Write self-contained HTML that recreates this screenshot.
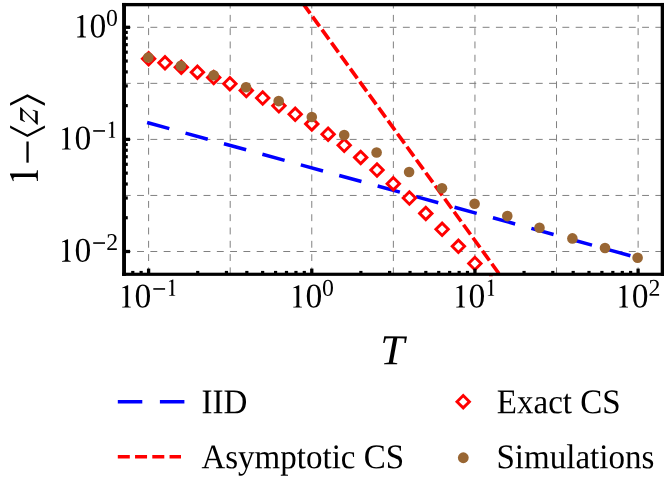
<!DOCTYPE html>
<html><head><meta charset="utf-8"><title>chart</title>
<style>html,body{margin:0;padding:0;background:#fff;}body{width:664px;height:487px;overflow:hidden;font-family:"Liberation Serif",serif;}svg{display:block;will-change:transform;}</style>
</head><body>
<svg width="664" height="487" viewBox="0 0 664 487">
<rect x="0" y="0" width="664" height="487" fill="#fff"/>
<defs><clipPath id="clip"><rect x="124.1" y="4.8" width="538.5" height="269.3"/></clipPath></defs>
<g stroke="#808080" stroke-width="1" stroke-dasharray="6.9 6.39" fill="none" clip-path="url(#clip)">
<line x1="148.60" y1="1.5999999999999996" x2="148.60" y2="274.1"/>
<line x1="230.19" y1="1.5999999999999996" x2="230.19" y2="274.1"/>
<line x1="311.77" y1="1.5999999999999996" x2="311.77" y2="274.1"/>
<line x1="393.36" y1="1.5999999999999996" x2="393.36" y2="274.1"/>
<line x1="474.94" y1="1.5999999999999996" x2="474.94" y2="274.1"/>
<line x1="556.52" y1="1.5999999999999996" x2="556.52" y2="274.1"/>
<line x1="638.11" y1="1.5999999999999996" x2="638.11" y2="274.1"/>
<line x1="123.8" y1="27.30" x2="662.6" y2="27.30"/>
<line x1="123.8" y1="83.35" x2="662.6" y2="83.35"/>
<line x1="123.8" y1="139.40" x2="662.6" y2="139.40"/>
<line x1="123.8" y1="195.45" x2="662.6" y2="195.45"/>
<line x1="123.8" y1="251.50" x2="662.6" y2="251.50"/>
</g>
<g clip-path="url(#clip)" fill="none">
<line x1="147.1" y1="122.5" x2="638.6" y2="257.96" stroke="#0000ff" stroke-width="3.55" stroke-dasharray="23.03 16.83"/>
<line x1="294.90" y1="-7.69" x2="505.00" y2="281.94" stroke="#ff0000" stroke-width="3.65" stroke-dasharray="12.0 4.07" stroke-dashoffset="2.1"/>
</g>
<g fill="#fff" stroke="#ff0000" stroke-width="2.9" stroke-linejoin="miter">
<path d="M142.40 58.80L148.60 52.60L154.80 58.80L148.60 65.00Z"/>
<path d="M158.80 62.80L165.00 56.60L171.20 62.80L165.00 69.00Z"/>
<path d="M175.10 67.20L181.30 61.00L187.50 67.20L181.30 73.40Z"/>
<path d="M191.20 72.20L197.40 66.00L203.60 72.20L197.40 78.40Z"/>
<path d="M207.50 77.60L213.70 71.40L219.90 77.60L213.70 83.80Z"/>
<path d="M223.70 83.70L229.90 77.50L236.10 83.70L229.90 89.90Z"/>
<path d="M240.10 90.60L246.30 84.40L252.50 90.60L246.30 96.80Z"/>
<path d="M256.50 98.00L262.70 91.80L268.90 98.00L262.70 104.20Z"/>
<path d="M272.70 105.80L278.90 99.60L285.10 105.80L278.90 112.00Z"/>
<path d="M289.00 114.30L295.20 108.10L301.40 114.30L295.20 120.50Z"/>
<path d="M305.60 123.90L311.80 117.70L318.00 123.90L311.80 130.10Z"/>
<path d="M321.90 134.20L328.10 128.00L334.30 134.20L328.10 140.40Z"/>
<path d="M338.00 145.30L344.20 139.10L350.40 145.30L344.20 151.50Z"/>
<path d="M354.50 157.40L360.70 151.20L366.90 157.40L360.70 163.60Z"/>
<path d="M370.80 170.00L377.00 163.80L383.20 170.00L377.00 176.20Z"/>
<path d="M387.10 183.70L393.30 177.50L399.50 183.70L393.30 189.90Z"/>
<path d="M403.20 198.00L409.40 191.80L415.60 198.00L409.40 204.20Z"/>
<path d="M419.60 213.40L425.80 207.20L432.00 213.40L425.80 219.60Z"/>
<path d="M435.90 229.30L442.10 223.10L448.30 229.30L442.10 235.50Z"/>
<path d="M452.20 246.30L458.40 240.10L464.60 246.30L458.40 252.50Z"/>
<path d="M468.65 263.50L474.85 257.30L481.05 263.50L474.85 269.70Z"/>
</g>
<g fill="#996633">
<circle cx="148.30" cy="57.55" r="5.3"/>
<circle cx="180.90" cy="65.70" r="5.3"/>
<circle cx="213.70" cy="75.20" r="5.3"/>
<circle cx="246.00" cy="87.30" r="5.3"/>
<circle cx="278.70" cy="101.10" r="5.3"/>
<circle cx="311.80" cy="117.00" r="5.3"/>
<circle cx="344.20" cy="135.00" r="5.3"/>
<circle cx="376.60" cy="152.50" r="5.3"/>
<circle cx="409.10" cy="172.00" r="5.3"/>
<circle cx="442.00" cy="188.20" r="5.3"/>
<circle cx="474.60" cy="203.80" r="5.3"/>
<circle cx="507.30" cy="216.10" r="5.3"/>
<circle cx="539.50" cy="227.80" r="5.3"/>
<circle cx="572.40" cy="238.40" r="5.3"/>
<circle cx="605.00" cy="248.00" r="5.3"/>
<circle cx="637.60" cy="257.80" r="5.3"/>
</g>
<rect x="489.0" y="275.0" width="3.8" height="1.25" fill="#ff0000"/>
<g fill="#000">
<rect x="122.1" y="2.96" width="545" height="3.33"/>
<rect x="122.1" y="272.7" width="545" height="3.17"/>
<rect x="122.1" y="2.96" width="3.88" height="272.91"/>
<rect x="660.7" y="2.96" width="3.9" height="272.91"/>
</g>
<g stroke="#000" fill="none">
<line x1="125.48" y1="251.50" x2="130.08" y2="251.50" stroke-width="3.3"/>
<line x1="125.48" y1="217.75" x2="127.78" y2="217.75" stroke-width="3.2"/>
<line x1="125.48" y1="198.01" x2="127.78" y2="198.01" stroke-width="3.2"/>
<line x1="125.48" y1="184.01" x2="127.78" y2="184.01" stroke-width="3.2"/>
<line x1="125.48" y1="173.15" x2="127.78" y2="173.15" stroke-width="3.2"/>
<line x1="125.48" y1="164.27" x2="127.78" y2="164.27" stroke-width="3.2"/>
<line x1="125.48" y1="156.76" x2="127.78" y2="156.76" stroke-width="3.2"/>
<line x1="125.48" y1="150.26" x2="127.78" y2="150.26" stroke-width="3.2"/>
<line x1="125.48" y1="144.53" x2="127.78" y2="144.53" stroke-width="3.2"/>
<line x1="125.48" y1="139.40" x2="130.08" y2="139.40" stroke-width="3.3"/>
<line x1="125.48" y1="105.65" x2="127.78" y2="105.65" stroke-width="3.2"/>
<line x1="125.48" y1="85.91" x2="127.78" y2="85.91" stroke-width="3.2"/>
<line x1="125.48" y1="71.91" x2="127.78" y2="71.91" stroke-width="3.2"/>
<line x1="125.48" y1="61.05" x2="127.78" y2="61.05" stroke-width="3.2"/>
<line x1="125.48" y1="52.17" x2="127.78" y2="52.17" stroke-width="3.2"/>
<line x1="125.48" y1="44.66" x2="127.78" y2="44.66" stroke-width="3.2"/>
<line x1="125.48" y1="38.16" x2="127.78" y2="38.16" stroke-width="3.2"/>
<line x1="125.48" y1="32.43" x2="127.78" y2="32.43" stroke-width="3.2"/>
<line x1="125.48" y1="27.30" x2="130.08" y2="27.30" stroke-width="3.3"/>
<line x1="132.79" y1="273.2" x2="132.79" y2="270.9" stroke-width="3.2"/>
<line x1="141.13" y1="273.2" x2="141.13" y2="270.9" stroke-width="3.2"/>
<line x1="148.60" y1="273.2" x2="148.60" y2="268.59999999999997" stroke-width="3.3"/>
<line x1="197.72" y1="273.2" x2="197.72" y2="270.9" stroke-width="3.2"/>
<line x1="226.45" y1="273.2" x2="226.45" y2="270.9" stroke-width="3.2"/>
<line x1="246.84" y1="273.2" x2="246.84" y2="270.9" stroke-width="3.2"/>
<line x1="262.65" y1="273.2" x2="262.65" y2="270.9" stroke-width="3.2"/>
<line x1="275.57" y1="273.2" x2="275.57" y2="270.9" stroke-width="3.2"/>
<line x1="286.49" y1="273.2" x2="286.49" y2="270.9" stroke-width="3.2"/>
<line x1="295.96" y1="273.2" x2="295.96" y2="270.9" stroke-width="3.2"/>
<line x1="304.30" y1="273.2" x2="304.30" y2="270.9" stroke-width="3.2"/>
<line x1="311.77" y1="273.2" x2="311.77" y2="268.59999999999997" stroke-width="3.3"/>
<line x1="360.89" y1="273.2" x2="360.89" y2="270.9" stroke-width="3.2"/>
<line x1="389.62" y1="273.2" x2="389.62" y2="270.9" stroke-width="3.2"/>
<line x1="410.01" y1="273.2" x2="410.01" y2="270.9" stroke-width="3.2"/>
<line x1="425.82" y1="273.2" x2="425.82" y2="270.9" stroke-width="3.2"/>
<line x1="438.74" y1="273.2" x2="438.74" y2="270.9" stroke-width="3.2"/>
<line x1="449.66" y1="273.2" x2="449.66" y2="270.9" stroke-width="3.2"/>
<line x1="459.13" y1="273.2" x2="459.13" y2="270.9" stroke-width="3.2"/>
<line x1="467.47" y1="273.2" x2="467.47" y2="270.9" stroke-width="3.2"/>
<line x1="474.94" y1="273.2" x2="474.94" y2="268.59999999999997" stroke-width="3.3"/>
<line x1="524.06" y1="273.2" x2="524.06" y2="270.9" stroke-width="3.2"/>
<line x1="552.79" y1="273.2" x2="552.79" y2="270.9" stroke-width="3.2"/>
<line x1="573.18" y1="273.2" x2="573.18" y2="270.9" stroke-width="3.2"/>
<line x1="588.99" y1="273.2" x2="588.99" y2="270.9" stroke-width="3.2"/>
<line x1="601.91" y1="273.2" x2="601.91" y2="270.9" stroke-width="3.2"/>
<line x1="612.83" y1="273.2" x2="612.83" y2="270.9" stroke-width="3.2"/>
<line x1="622.30" y1="273.2" x2="622.30" y2="270.9" stroke-width="3.2"/>
<line x1="630.64" y1="273.2" x2="630.64" y2="270.9" stroke-width="3.2"/>
<line x1="638.11" y1="273.2" x2="638.11" y2="268.59999999999997" stroke-width="3.3"/>
</g>
<g font-family="'Liberation Serif', serif" fill="#000">
<path transform="translate(81.85,37.40) scale(0.8019,-0.8019)" d="M-5.7 0H5.0V1.0C3.0 1.05 1.75 1.5 1.75 2.9V27.9H0.9L-5.8 24.9L-5.5 24.0C-4 24.7 -1.75 25.0 -1.75 22.5V2.9C-1.75 1.5 -3.0 1.05 -5.7 1.0Z"/>
<text transform="translate(106.40,37.40) rotate(0.03) scale(1.0,1.035)" font-size="33.6" text-anchor="end">0</text>
<text transform="translate(105.90,25.65) rotate(0.03) scale(1.0,1.01)" font-size="23.8" text-anchor="start">0</text>
<path transform="translate(66.65,149.60) scale(0.8019,-0.8019)" d="M-5.7 0H5.0V1.0C3.0 1.05 1.75 1.5 1.75 2.9V27.9H0.9L-5.8 24.9L-5.5 24.0C-4 24.7 -1.75 25.0 -1.75 22.5V2.9C-1.75 1.5 -3.0 1.05 -5.7 1.0Z"/>
<text transform="translate(91.20,149.60) rotate(0.03) scale(1.0,1.035)" font-size="33.6" text-anchor="end">0</text>
<rect x="93.20" y="130.15" width="11.8" height="1.6"/>
<path transform="translate(112.20,137.85) scale(0.5849,-0.5849)" d="M-5.7 0H5.0V1.0C3.0 1.05 1.75 1.5 1.75 2.9V27.9H0.9L-5.8 24.9L-5.5 24.0C-4 24.7 -1.75 25.0 -1.75 22.5V2.9C-1.75 1.5 -3.0 1.05 -5.7 1.0Z"/>
<path transform="translate(66.65,261.70) scale(0.8019,-0.8019)" d="M-5.7 0H5.0V1.0C3.0 1.05 1.75 1.5 1.75 2.9V27.9H0.9L-5.8 24.9L-5.5 24.0C-4 24.7 -1.75 25.0 -1.75 22.5V2.9C-1.75 1.5 -3.0 1.05 -5.7 1.0Z"/>
<text transform="translate(91.20,261.70) rotate(0.03) scale(1.0,1.035)" font-size="33.6" text-anchor="end">0</text>
<rect x="93.20" y="242.25" width="11.8" height="1.6"/>
<text transform="translate(106.15,249.95) rotate(0.03) scale(1.0,1.01)" font-size="23.8" text-anchor="start">2</text>
<path transform="translate(126.75,307.60) scale(0.8019,-0.8019)" d="M-5.7 0H5.0V1.0C3.0 1.05 1.75 1.5 1.75 2.9V27.9H0.9L-5.8 24.9L-5.5 24.0C-4 24.7 -1.75 25.0 -1.75 22.5V2.9C-1.75 1.5 -3.0 1.05 -5.7 1.0Z"/>
<text transform="translate(151.30,307.60) rotate(0.03) scale(1.0,1.035)" font-size="33.6" text-anchor="end">0</text>
<rect x="153.30" y="288.15" width="11.8" height="1.6"/>
<path transform="translate(172.30,295.85) scale(0.5849,-0.5849)" d="M-5.7 0H5.0V1.0C3.0 1.05 1.75 1.5 1.75 2.9V27.9H0.9L-5.8 24.9L-5.5 24.0C-4 24.7 -1.75 25.0 -1.75 22.5V2.9C-1.75 1.5 -3.0 1.05 -5.7 1.0Z"/>
<path transform="translate(297.85,307.60) scale(0.8019,-0.8019)" d="M-5.7 0H5.0V1.0C3.0 1.05 1.75 1.5 1.75 2.9V27.9H0.9L-5.8 24.9L-5.5 24.0C-4 24.7 -1.75 25.0 -1.75 22.5V2.9C-1.75 1.5 -3.0 1.05 -5.7 1.0Z"/>
<text transform="translate(322.40,307.60) rotate(0.03) scale(1.0,1.035)" font-size="33.6" text-anchor="end">0</text>
<text transform="translate(321.90,295.85) rotate(0.03) scale(1.0,1.01)" font-size="23.8" text-anchor="start">0</text>
<path transform="translate(460.85,307.60) scale(0.8019,-0.8019)" d="M-5.7 0H5.0V1.0C3.0 1.05 1.75 1.5 1.75 2.9V27.9H0.9L-5.8 24.9L-5.5 24.0C-4 24.7 -1.75 25.0 -1.75 22.5V2.9C-1.75 1.5 -3.0 1.05 -5.7 1.0Z"/>
<text transform="translate(485.40,307.60) rotate(0.03) scale(1.0,1.035)" font-size="33.6" text-anchor="end">0</text>
<path transform="translate(491.20,295.85) scale(0.5849,-0.5849)" d="M-5.7 0H5.0V1.0C3.0 1.05 1.75 1.5 1.75 2.9V27.9H0.9L-5.8 24.9L-5.5 24.0C-4 24.7 -1.75 25.0 -1.75 22.5V2.9C-1.75 1.5 -3.0 1.05 -5.7 1.0Z"/>
<path transform="translate(623.95,307.60) scale(0.8019,-0.8019)" d="M-5.7 0H5.0V1.0C3.0 1.05 1.75 1.5 1.75 2.9V27.9H0.9L-5.8 24.9L-5.5 24.0C-4 24.7 -1.75 25.0 -1.75 22.5V2.9C-1.75 1.5 -3.0 1.05 -5.7 1.0Z"/>
<text transform="translate(648.50,307.60) rotate(0.03) scale(1.0,1.035)" font-size="33.6" text-anchor="end">0</text>
<text transform="translate(648.45,295.85) rotate(0.03) scale(1.0,1.01)" font-size="23.8" text-anchor="start">2</text>
</g>
<g font-family="'Liberation Serif', serif" fill="#000">
<text transform="translate(380.20,364.20) rotate(0.03) scale(1.02,1.0)" font-size="42.6" text-anchor="start" font-style="italic">T</text>
<path transform="translate(37.90,175.35) rotate(-90) scale(1.0000,-1.0000)" d="M-5.7 0H5.0V1.0C3.0 1.05 1.75 1.5 1.75 2.9V27.9H0.9L-5.8 24.9L-5.5 24.0C-4 24.7 -1.75 25.0 -1.75 22.5V2.9C-1.75 1.5 -3.0 1.05 -5.7 1.0Z"/>
<rect x="26.4" y="141.5" width="2.3" height="21.15"/>
<path d="M10.1 128.1L27.4 137.0L44.9 128.1L44.9 125.5L27.4 134.4L10.1 125.5Z"/>
<path d="M10.1 103.1L27.4 94.3L44.9 103.1L44.9 105.7L27.4 96.9L10.1 105.7Z"/>
<path d="M20.1 107.2L20.8 107.2L35.2 120.95L35.25 111.85L32.5 110.2L32.95 109.8L37.8 111.25L37.8 124.85L37.0 124.85L22.75 110.65L22.65 119.2L25.2 121.8L24.65 122.0L20.1 119.9Z"/>
</g>
<line x1="117.8" y1="401.7" x2="184.5" y2="401.7" stroke="#0000ff" stroke-width="3.35" stroke-dasharray="24.5 17.6"/>
<line x1="117.8" y1="456.7" x2="181" y2="456.7" stroke="#ff0000" stroke-width="3.5" stroke-dasharray="12 5.25"/>
<path d="M457.00 401.70L463.20 395.50L469.40 401.70L463.20 407.90Z" fill="#fff" stroke="#f00" stroke-width="2.9"/>
<circle cx="463.3" cy="457.75" r="5.4" fill="#996633"/>
<g font-family="'Liberation Serif', serif" fill="#000">
<text transform="translate(201.40,413.30) rotate(0.03) scale(1.01,1.06)" font-size="32.7" text-anchor="start">IID</text>
<text transform="translate(201.40,468.20) rotate(0.03) scale(1.01,1.06)" font-size="32.7" text-anchor="start">Asymptotic CS</text>
<text transform="translate(496.80,413.30) rotate(0.03) scale(1.01,1.06)" font-size="32.7" text-anchor="start">Exact CS</text>
<text transform="translate(496.50,468.20) rotate(0.03) scale(1.01,1.06)" font-size="32.7" text-anchor="start">Simulations</text>
</g>
</svg>
</body></html>
